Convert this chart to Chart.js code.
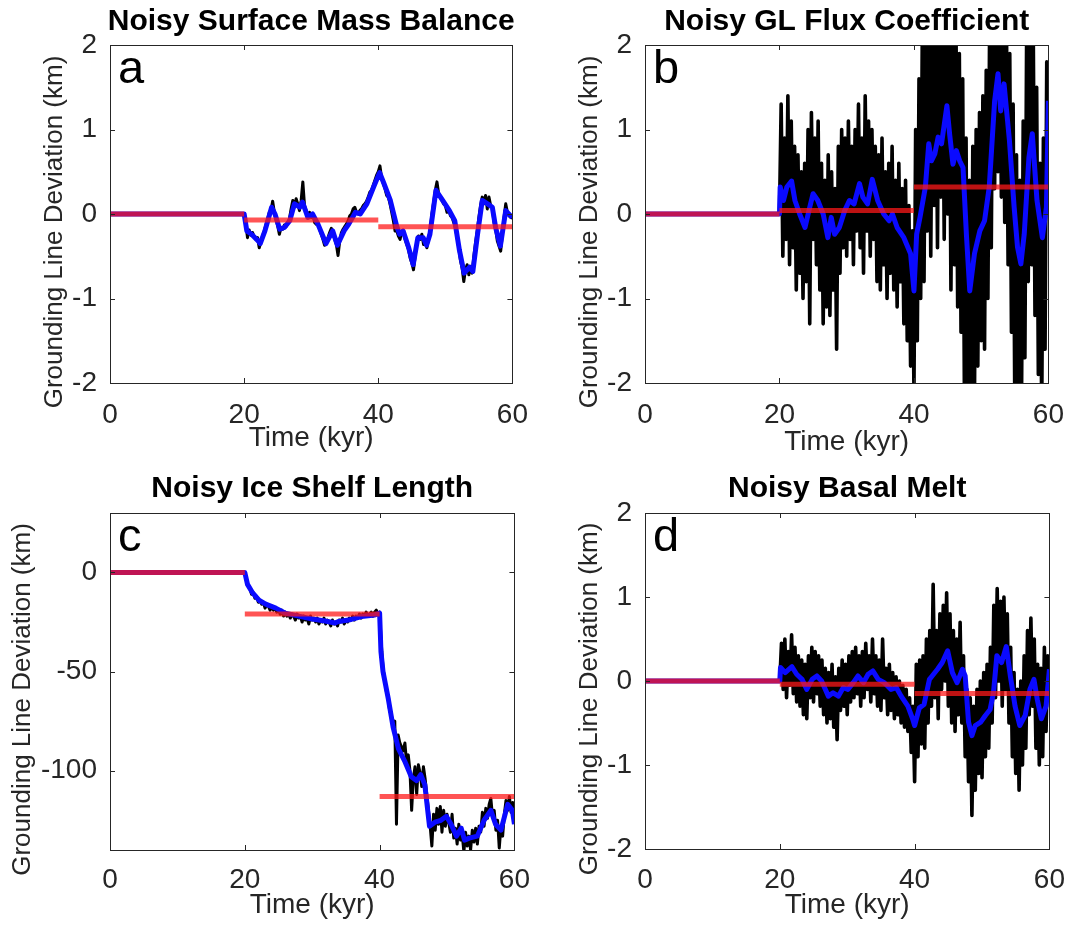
<!DOCTYPE html>
<html>
<head>
<meta charset="utf-8">
<title>Noisy forcing experiments</title>
<script src="https://cdn.jsdelivr.net/npm/chart.js@4.4.1/dist/chart.umd.min.js"></script>
<style>
  html, body { margin: 0; padding: 0; background: #fff; }
  body { width: 1071px; height: 925px; position: relative; overflow: hidden; }
  canvas { position: absolute; }
</style>
</head>
<body>
<canvas id="panelA" width="535" height="462" style="left:0;top:0"></canvas>
<canvas id="panelB" width="536" height="462" style="left:535px;top:0"></canvas>
<canvas id="panelC" width="535" height="463" style="left:0;top:462px"></canvas>
<canvas id="panelD" width="536" height="463" style="left:535px;top:462px"></canvas>
<script>
// ---- axes ----
const X_TICKS = [0, 20, 40, 60];
const Y_TICKS_KM = [-2, -1, 0, 1, 2];
const Y_TICKS_SHELF = [-100, -50, 0];
const PERIODS = [0, 20, 40, 60];

// raw (black) runs are sampled every 0.25 kyr from 20 kyr, steady at 0 before that
const RAW_START = 20;
const RAW_STEP = 0.25;

// ---- a: noisy surface mass balance ----
const smbSmoothT = [0, 20, 20.4, 21.1, 22.1, 22.4, 23.1, 24.1, 24.6, 25.3, 26.0, 26.8, 27.5, 28.3, 28.7, 29.5, 30.2, 31.0, 32.2, 33.2,
  33.9, 34.9, 35.6, 36.6, 37.3, 38.3, 39.3, 40.2, 40.8, 41.8, 42.8, 43.2, 43.7, 44.5, 45.2, 45.9, 46.7, 47.2, 47.7, 48.6,
  49.6, 50.6, 51.4, 52.1, 52.8, 53.6, 54.1, 54.8, 55.5, 56.3, 57.0, 57.5, 58.2, 59.0, 59.7, 60];
const smbSmoothV = [0, 0, -0.2, -0.24, -0.32, -0.35, -0.2, 0.08, 0, -0.18, -0.16, -0.08, 0.12, 0.08, 0.14, -0.04, 0, -0.12, -0.35, -0.2,
  -0.37, -0.2, -0.12, 0.02, 0, 0.12, 0.32, 0.49, 0.37, 0.16, -0.16, -0.24, -0.2, -0.39, -0.6, -0.28, -0.28, -0.37, -0.24, 0.28,
  0.16, 0.04, -0.08, -0.43, -0.7, -0.63, -0.68, -0.24, 0.16, 0.12, 0.08, -0.16, -0.38, 0.04, -0.02, -0.04];
const smbRaw = [
  0.0, -0.12, -0.28, -0.19, -0.25, -0.22, -0.27, -0.3,
  -0.28, -0.4, -0.33, -0.26, -0.2, -0.13, -0.06, 0.02,
  0.04, 0.15, 0.02, -0.06, -0.14, -0.24, -0.16, -0.18,
  -0.13, -0.15, -0.1, -0.06, 0.06, 0.16, 0.08, 0.18,
  0.12, 0.04, 0.16, 0.38, 0.1, 0.04, -0.03, 0.02,
  -0.04, 0.0, -0.1, -0.12, -0.1, -0.18, -0.24, -0.3,
  -0.37, -0.34, -0.28, -0.22, -0.17, -0.2, -0.3, -0.36,
  -0.49, -0.32, -0.22, -0.18, -0.15, -0.12, -0.08, -0.02,
  0.0, 0.06, 0.08, 0.02, 0.0, 0.04, 0.06, 0.1,
  0.12, 0.15, 0.2, 0.26, 0.28, 0.34, 0.4, 0.46,
  0.5, 0.57, 0.42, 0.36, 0.3, 0.22, 0.2, 0.12,
  0.02, -0.08, -0.2, -0.2, -0.26, -0.3, -0.2, -0.22,
  -0.3, -0.36, -0.42, -0.52, -0.58, -0.66, -0.5, -0.32,
  -0.26, -0.3, -0.24, -0.36, -0.32, -0.4, -0.28, -0.18,
  0.0, 0.14, 0.28, 0.38, 0.24, 0.2, 0.16, 0.12,
  0.1, 0.02, 0.06, -0.02, -0.04, -0.1, -0.16, -0.28,
  -0.4, -0.55, -0.64, -0.8, -0.66, -0.6, -0.72, -0.62,
  -0.7, -0.5, -0.34, -0.2, -0.04, 0.1, 0.2, 0.12,
  0.22, 0.06, 0.2, 0.1, 0.08, -0.1, -0.18, -0.32,
  -0.38, -0.44, -0.24, -0.04, 0.12, 0.02, -0.02, -0.04,
  -0.05];
const smbMeans = [0, -0.07, -0.15];

// ---- b: noisy grounding line flux coefficient ----
const fluxSmoothT = [0, 20, 20.1, 20.6, 21.1, 21.8, 22.3, 23.0, 23.8, 24.5, 25.0, 25.7, 26.5, 27.2, 27.7, 28.2, 28.9, 29.7, 30.4, 31.1,
  31.9, 32.4, 33.1, 33.8, 34.6, 35.5, 36.3, 36.8, 37.5, 38.5, 39.5, 40.0, 40.4, 40.9, 41.7, 42.2, 42.6, 43.1, 43.6, 44.1,
  44.9, 45.3, 45.8, 46.3, 46.8, 47.3, 47.8, 48.3, 49.0, 49.8, 50.5, 51.2, 52.0, 52.5, 52.9, 53.4, 54.2, 54.9, 55.4, 55.9,
  56.4, 57.1, 57.6, 58.3, 59.1, 59.7, 60];
const fluxSmoothV = [0, 0, 0.32, 0.16, 0.32, 0.39, 0.16, 0, -0.16, 0.08, 0.24, 0.16, 0, -0.28, -0.04, -0.24, -0.16, 0.04, 0.16, 0.12,
  0.36, 0.2, 0.12, 0.41, 0.16, 0, -0.08, 0, -0.16, -0.28, -0.47, -0.91, -0.24, -0.04, 0.32, 0.83, 0.63, 0.71, 0.91, 0.83,
  1.28, 0.95, 0.59, 0.75, 0.63, 0.55, -0.24, -0.91, -0.47, -0.2, -0.08, 0.32, 1.34, 1.66, 1.22, 1.54, 0.87, 0.08, -0.39, -0.59,
  -0.24, 0.67, 0.95, 0.16, -0.28, 0.08, 1.34];
const fluxRaw = [
  0.0, 1.3, -0.5, 0.9, -0.3, 1.4, -0.6, 1.1,
  -0.4, 0.8, -0.9, 0.7, -0.7, 0.5, -1.0, 0.6,
  -0.8, 1.0, -1.3, 1.2, -0.3, 0.9, -0.6, 1.1,
  -0.9, 0.6, -1.3, 0.4, -1.1, 0.7, -1.2, 0.5,
  -0.9, 0.3, -1.6, 0.8, -0.7, 1.0, -0.4, 0.9,
  -0.5, 1.1, -0.3, 0.8, -0.6, 1.0, -0.2, 1.3,
  -0.4, 0.9, -0.7, 1.4, -0.2, 1.1, -0.5, 1.0,
  -0.3, 0.8, -0.8, 0.7, -0.9, 0.9, -0.6, 0.5,
  -1.0, 0.6, -0.7, 0.8, -0.9, 0.4, -1.1, 0.6,
  -0.8, 0.3, -1.3, 0.4, -1.5, 0.1, -1.8, -0.2,
  -2.1, 1.0, -1.5, 1.6, -1.0, 2.3, -0.8, 2.5,
  -0.2, 2.6, -0.5, 2.2, 0.1, 2.4, -0.4, 2.7,
  0.2, 2.3, -0.3, 2.8, 0.0, 2.4, -0.9, 2.1,
  -0.6, 2.3, -1.1, 1.9, -1.4, 1.6, -2.1, 0.9,
  -2.6, 0.4, -2.4, 0.8, -2.2, 1.0, -1.8, 1.2,
  -1.5, 1.4, -1.6, 1.7, -1.0, 2.2, -0.4, 2.6,
  0.3, 2.9, 0.5, 2.7, 0.2, 2.8, -0.1, 2.4,
  -0.6, 1.9, -1.4, 1.3, -2.3, 0.7, -2.6, 0.4,
  -2.2, 1.1, -1.7, 2.0, -0.8, 2.4, -0.6, 2.1,
  -1.2, 1.5, -1.9, 0.6, -2.4, 0.9, -1.6, 1.8,
  1.3];
const fluxMeans = [0, 0.04, 0.32];

// ---- c: noisy ice shelf length ----
const shelfSmoothT = [0, 20, 20.4, 21.1, 22.1, 23.1, 24.6, 26.0, 28.0, 30.0, 31.9, 33.4, 33.9, 35.4, 37.3, 39.3, 40.0, 40.2, 40.5, 41.3,
  42.0, 42.8, 43.7, 44.7, 45.5, 46.1, 46.7, 47.4, 48.2, 49.1, 49.9, 50.6, 51.4, 52.1, 52.6, 53.3, 54.5, 55.5, 56.5, 57.2,
  58.0, 59.0, 59.7, 60];
const shelfSmoothV = [0, 0, -6, -10, -14, -16, -18, -20.5, -22, -23.5, -24.5, -25.5, -24.7, -24, -22.2, -21.4, -20.5, -40, -50, -64,
  -78, -89, -95, -103, -105, -102, -107, -128, -126, -125, -123, -127, -133, -129, -135, -134, -133, -125, -120, -127,
  -130, -117, -120, -127];
const shelfRaw = [
  0, -4, -7, -8, -11, -10, -13, -12,
  -15, -14, -16, -15, -18, -16, -17, -19,
  -17, -19, -18, -20, -19, -21, -19, -22,
  -20, -22, -21, -23, -21, -22, -24, -21,
  -23, -22, -25, -22, -24, -23, -26, -22,
  -24, -23, -25, -23, -26, -24, -25, -23,
  -26, -24, -25, -27, -24, -26, -25, -27,
  -24, -25, -23, -26, -24, -25, -23, -24,
  -22, -24, -22, -23, -21, -23, -21, -22,
  -20, -22, -21, -20, -22, -20, -19, -21,
  -20, -36, -48, -54, -60, -63, -70, -72,
  -78, -75, -127, -82, -86, -88, -90, -86,
  -96, -92, -100, -120, -104, -98, -112, -97,
  -101, -108, -98, -104, -112, -120, -128, -138,
  -122, -130, -119, -127, -118, -131, -120, -128,
  -122, -126, -131, -122, -134, -129, -137, -127,
  -135, -132, -141, -131, -138, -133, -140, -130,
  -136, -129, -137, -128, -131, -121, -128, -119,
  -124, -117, -114, -123, -120, -130, -125, -139,
  -128, -133, -122, -115, -120, -113, -121, -116,
  -126];
const shelfMeans = [0, -21, -113];

// ---- d: noisy basal melt ----
const meltSmoothT = [0, 20, 20.1, 20.8, 21.8, 22.5, 23.3, 24.0, 24.8, 25.5, 26.2, 27.2, 27.9, 28.7, 29.4, 30.1, 30.9, 31.6, 32.4, 33.1,
  33.8, 34.6, 35.5, 36.5, 37.3, 38.0, 39.0, 39.7, 40.0, 40.7, 41.4, 42.2, 42.6, 43.4, 44.1, 44.9, 45.6, 46.3, 47.1, 47.5,
  48.0, 48.5, 49.0, 49.8, 50.5, 51.2, 51.7, 52.2, 52.9, 53.6, 54.2, 54.9, 55.6, 56.4, 57.1, 57.7, 58.2, 58.8, 59.5, 60];
const meltSmoothV = [0, 0, 0.16, 0.1, 0.17, 0.08, 0.02, -0.1, 0.02, 0.06, 0, -0.18, -0.14, -0.18, -0.08, -0.1, -0.02, 0.06, -0.02, 0.08,
  0.12, 0.02, -0.02, -0.1, -0.08, -0.18, -0.3, -0.45, -0.53, -0.32, -0.28, 0.02, 0.06, 0.14, 0.22, 0.36, 0.1, -0.02, 0.14, 0.06,
  -0.49, -0.65, -0.53, -0.49, -0.41, -0.34, -0.14, 0.3, 0.22, 0.41, 0.06, -0.3, -0.53, -0.41, -0.1, 0.02, -0.22, -0.45, -0.3, 0.14];
const meltRaw = [
  0.0, 0.45, -0.1, 0.5, -0.2, 0.35, -0.05, 0.55,
  -0.15, 0.4, -0.25, 0.3, -0.3, 0.25, -0.4, 0.2,
  -0.45, 0.3, -0.2, 0.4, -0.25, 0.35, -0.15, 0.3,
  -0.3, 0.25, -0.4, 0.15, -0.5, 0.1, -0.45, 0.2,
  -0.55, 0.05, -0.7, 0.15, -0.35, 0.25, -0.3, 0.2,
  -0.4, 0.3, -0.25, 0.35, -0.2, 0.4, -0.15, 0.3,
  -0.3, 0.35, -0.2, 0.45, -0.1, 0.3, -0.25, 0.5,
  -0.15, 0.3, -0.3, 0.25, -0.35, 0.5, -0.2, 0.15,
  -0.4, 0.2, -0.35, 0.1, -0.45, 0.05, -0.4, 0.0,
  -0.5, -0.05, -0.55, -0.1, -0.6, -0.2, -0.85, -0.3,
  -1.2, 0.2, -0.9, 0.25, -0.75, 0.3, -0.8, 0.5,
  -0.5, 0.6, -0.3, 1.15, -0.2, 0.6, -0.45, 0.8,
  -0.1, 0.9, 0.0, 1.05, -0.3, 0.8, -0.5, 0.6,
  -0.6, 0.5, -0.4, 0.7, -0.5, 0.3, -0.9, -0.1,
  -1.2, -0.2, -1.6, -0.3, -1.3, -0.1, -1.1, 0.0,
  -1.15, 0.1, -0.9, 0.2, -0.8, 0.4, -0.5, 0.9,
  -0.2, 1.1, 0.0, 0.95, -0.3, 1.0, -0.1, 0.8,
  -0.5, 0.4, -0.9, 0.1, -1.1, -0.1, -1.3, 0.0,
  -1.0, 0.3, -0.8, 0.6, -0.4, 0.75, -0.3, 0.5,
  -0.8, 0.2, -1.0, 0.15, -0.9, 0.4, -0.6, 0.3,
  0.1];
const meltMeans = [0, -0.04, -0.15];

// ---- styling ----
const INK = '#262626';
const RAW_COLOUR = '#000000';
const SMOOTH_COLOUR = '#0a0aff';
const MEAN_COLOUR = 'rgba(255, 24, 24, 0.74)';
const FONT = '"Liberation Sans", Arial, Helvetica, sans-serif';

Chart.defaults.font.family = FONT;
Chart.defaults.color = INK;

// helpers turning the arrays into {x, y} points
function pairs(ts, vs) {
    return ts.map((t, i) => ({ x: t, y: vs[i] }));
}

function rawPoints(vs) {
    const pts = [{ x: 0, y: 0 }];
    vs.forEach((v, i) => pts.push({ x: RAW_START + i * RAW_STEP, y: v }));
    return pts;
}

function meanPoints(ms) {
    const pts = [];
    ms.forEach((m, i) => {
        if (i > 0) pts.push({ x: PERIODS[i], y: null });
        pts.push({ x: PERIODS[i], y: m }, { x: PERIODS[i + 1], y: m });
    });
    return pts;
}

// MATLAB style box with inward ticks, title, panel letter and y label
const framePlugin = {
    id: 'frame',
    afterDatasetsDraw(chart, args, opts) {
        const { ctx, chartArea: a, scales } = chart;
        const len = 5;
        ctx.save();
        ctx.strokeStyle = INK;
        ctx.lineWidth = 1;
        ctx.beginPath();
        scales.x.ticks.forEach(t => {
            const px = Math.round(scales.x.getPixelForValue(t.value)) + 0.5;
            ctx.moveTo(px, a.bottom); ctx.lineTo(px, a.bottom - len);
            ctx.moveTo(px, a.top); ctx.lineTo(px, a.top + len);
        });
        scales.y.ticks.forEach(t => {
            const py = Math.round(scales.y.getPixelForValue(t.value)) + 0.5;
            ctx.moveTo(a.left, py); ctx.lineTo(a.left + len, py);
            ctx.moveTo(a.right, py); ctx.lineTo(a.right - len, py);
        });
        ctx.stroke();
        ctx.strokeRect(Math.round(a.left) + 0.5, Math.round(a.top) + 0.5,
            Math.round(a.right - a.left), Math.round(a.bottom - a.top));
        ctx.restore();
    },
    afterDraw(chart, args, opts) {
        const { ctx, chartArea: a } = chart;
        const cx = (a.left + a.right) / 2;
        ctx.save();
        ctx.fillStyle = '#000';
        ctx.textAlign = 'center';
        ctx.textBaseline = 'alphabetic';
        ctx.font = 'bold 30px ' + FONT;
        ctx.fillText(opts.title, cx, opts.titleY);

        ctx.textAlign = 'left';
        ctx.font = '47px ' + FONT;
        ctx.fillText(opts.letter, a.left + 8, a.top + 38);

        ctx.fillStyle = INK;
        ctx.font = '26px ' + FONT;
        ctx.translate(opts.labelX, (a.top + a.bottom) / 2 + 18);
        ctx.rotate(-Math.PI / 2);
        ctx.textAlign = 'center';
        ctx.textBaseline = 'middle';
        ctx.fillText('Grounding Line Deviation (km)', 0, 0);
        ctx.restore();
    }
};

function makePanel(id, p) {
    const canvas = document.getElementById(id);
    const H = canvas.height;
    return new Chart(canvas, {
        type: 'line',
        data: {
            datasets: [
                { data: meanPoints(p.means), borderColor: MEAN_COLOUR, borderWidth: 5, order: 0, spanGaps: false, clip: 0 },
                { data: pairs(p.smoothT, p.smoothV), borderColor: SMOOTH_COLOUR, borderWidth: 5, order: 1, clip: 0 },
                { data: rawPoints(p.raw), borderColor: RAW_COLOUR, borderWidth: p.rawWidth, order: 2, clip: 0 }
            ]
        },
        options: {
            responsive: false,
            animation: false,
            devicePixelRatio: 1,
            layout: { padding: { top: p.top, right: p.right, left: 0, bottom: 0 } },
            elements: {
                point: { radius: 0 },
                line: { tension: 0, fill: false, borderCapStyle: 'butt', borderJoinStyle: 'round' }
            },
            plugins: {
                legend: { display: false },
                tooltip: { enabled: false },
                frame: { title: p.title, titleY: p.titleY, letter: p.letter, labelX: p.labelX }
            },
            scales: {
                x: {
                    type: 'linear',
                    min: 0,
                    max: 60,
                    afterBuildTicks: s => { s.ticks = X_TICKS.map(v => ({ value: v })); },
                    afterFit: s => { s.height = H - p.bottom; },
                    grid: { display: false },
                    border: { display: false },
                    ticks: { padding: p.xPad, color: INK, font: { size: 28 }, maxRotation: 0, autoSkip: false },
                    title: { display: true, text: 'Time (kyr)', color: INK, font: { size: 28 }, padding: { top: 0, bottom: p.xTitlePad } }
                },
                y: {
                    type: 'linear',
                    min: p.yMin,
                    max: p.yMax,
                    afterBuildTicks: s => { s.ticks = p.yTicks.map(v => ({ value: v })); },
                    afterFit: s => { s.width = 110; },
                    grid: { display: false },
                    border: { display: false },
                    ticks: { padding: 5, color: INK, font: { size: 28 } }
                }
            }
        },
        plugins: [framePlugin]
    });
}

makePanel('panelA', {
    title: 'Noisy Surface Mass Balance', letter: 'a', titleY: 30, labelX: 55,
    top: 45, right: 18, bottom: 383, xPad: 7, xTitlePad: 7, rawWidth: 3,
    yMin: -2, yMax: 2, yTicks: Y_TICKS_KM,
    smoothT: smbSmoothT, smoothV: smbSmoothV, raw: smbRaw, means: smbMeans
});

makePanel('panelB', {
    title: 'Noisy GL Flux Coefficient', letter: 'b', titleY: 30, labelX: 55,
    top: 45, right: 18, bottom: 383, xPad: 7, xTitlePad: 3, rawWidth: 3.6,
    yMin: -2, yMax: 2, yTicks: Y_TICKS_KM,
    smoothT: fluxSmoothT, smoothV: fluxSmoothV, raw: fluxRaw, means: fluxMeans
});

makePanel('panelC', {
    title: 'Noisy Ice Shelf Length', letter: 'c', titleY: 35, labelX: 23,
    top: 51, right: 18, bottom: 388, xPad: 5, xTitlePad: 3, rawWidth: 3,
    yMin: -140, yMax: 30, yTicks: Y_TICKS_SHELF,
    smoothT: shelfSmoothT, smoothV: shelfSmoothV, raw: shelfRaw, means: shelfMeans
});

makePanel('panelD', {
    title: 'Noisy Basal Melt', letter: 'd', titleY: 35, labelX: 55,
    top: 51, right: 18, bottom: 387, xPad: 6, xTitlePad: 3, rawWidth: 3.6,
    yMin: -2, yMax: 2, yTicks: Y_TICKS_KM,
    smoothT: meltSmoothT, smoothV: meltSmoothV, raw: meltRaw, means: meltMeans
});
</script>
</body>
</html>
